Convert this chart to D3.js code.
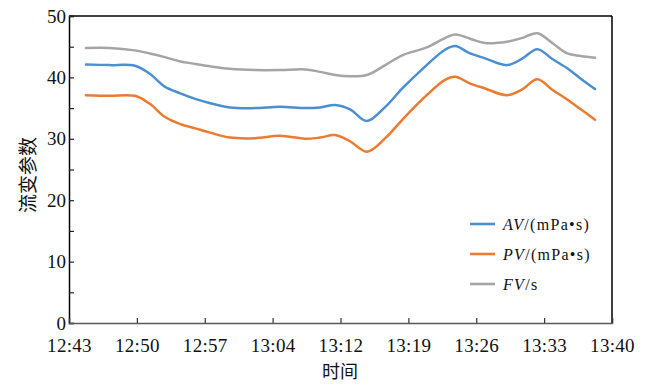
<!DOCTYPE html>
<html><head><meta charset="utf-8">
<script src="https://cdn.jsdelivr.net/npm/d3@7/dist/d3.min.js"></script>
<style>
body{margin:0;background:#fff;}
svg{display:block;}
</style></head>
<body>
<svg id="chart" width="661" height="386"></svg>
<script>
// ---- data ----
const tickLabels = ["12:43","12:50","12:57","13:04","13:12","13:19","13:26","13:33","13:40"];
// sample positions, in units of tick-label intervals (0 = 12:43, 8 = 13:40)
const samplePos = [0.25,0.60,0.97,1.19,1.41,1.64,1.86,2.08,2.37,2.74,3.11,3.48,3.70,3.92,4.14,4.39,4.66,4.91,5.25,5.54,5.69,5.91,6.13,6.45,6.67,6.90,7.12,7.34,7.54,7.75];
const avValues = [42.1,42.0,41.9,40.6,38.5,37.4,36.5,35.8,35.1,35.0,35.2,35.0,35.1,35.5,34.8,32.9,35.2,38.2,41.8,44.5,45.1,43.9,43.1,42.0,43.0,44.6,43.0,41.5,39.8,38.1];
const pvValues = [37.1,37.0,37.0,35.7,33.6,32.4,31.7,31.0,30.2,30.1,30.5,30.0,30.2,30.6,29.6,27.9,30.1,33.1,36.9,39.6,40.1,39.0,38.2,37.1,38.0,39.7,38.0,36.4,34.8,33.1];
const fvValues = [44.8,44.8,44.4,43.9,43.3,42.6,42.2,41.8,41.4,41.2,41.2,41.3,40.9,40.4,40.2,40.4,42.0,43.6,44.8,46.4,47.0,46.3,45.6,45.8,46.4,47.2,45.6,43.9,43.5,43.2];
const yTicks = [0,10,20,30,40,50];
const yMinorTicks = [0,5,10,15,20,25,30,35,40,45,50];
const seriesNames = [
  {it:"AV", rest:"/(mPa•s)"},
  {it:"PV", rest:"/(mPa•s)"},
  {it:"FV", rest:"/s"}
];
const seriesColors = ["#4b8fd0","#ec7a2f","#a5a5a5"];

// ---- layout ----
const svg = d3.select("#chart");
const L = 69, R = 612, T = 16, B = 323;
const x = d3.scaleLinear().domain([0, tickLabels.length - 1]).range([L, R]);
const y = d3.scaleLinear().domain([0, 50]).range([B, T]);
const serifFont = "'Liberation Serif','DejaVu Serif',serif";
const cjkFont = "'Noto Sans CJK SC','Noto Sans CJK JP',sans-serif";

// frame top/right
svg.append("line").attr("x1", L).attr("x2", R).attr("y1", T).attr("y2", T).attr("stroke", "#000").attr("stroke-width", 1.5);
svg.append("line").attr("x1", R).attr("x2", R).attr("y1", T).attr("y2", B).attr("stroke", "#000").attr("stroke-width", 1.5);

// y axis
const yAxis = d3.axisLeft(y).tickValues(yMinorTicks).tickSize(-5).tickPadding(4)
  .tickFormat(d => yTicks.includes(d) ? d : "");
const gy = svg.append("g").attr("transform", `translate(${L},0)`).call(yAxis);
gy.select(".domain").attr("stroke", "#000").attr("stroke-width", 1.5);
gy.selectAll(".tick line").attr("stroke", "#222").attr("stroke-width", 1.2);
gy.selectAll(".tick text").attr("font-family", serifFont).attr("font-size", 19).attr("fill", "#111").attr("x", -3);

// x axis
const xAxis = d3.axisBottom(x).tickValues(d3.range(tickLabels.length)).tickSize(-5).tickPadding(12)
  .tickFormat(i => tickLabels[i]);
const gx = svg.append("g").attr("transform", `translate(0,${B})`).call(xAxis);
gx.select(".domain").attr("stroke", "#595959").attr("stroke-width", 1.5);
gx.selectAll(".tick line").attr("stroke", "#333").attr("stroke-width", 1.2);
gx.selectAll(".tick text").attr("font-family", serifFont).attr("font-size", 19).attr("fill", "#111")
  .attr("letter-spacing", 0.3).attr("y", 28.5).attr("dy", 0);

// axis titles
svg.append("text").attr("x", 340).attr("y", 378).attr("text-anchor", "middle")
  .attr("font-family", cjkFont).attr("font-size", 18).attr("fill", "#111").text("时间");
svg.append("text").attr("transform", "translate(35,175) rotate(-90)").attr("text-anchor", "middle")
  .attr("font-family", cjkFont).attr("font-size", 19).attr("fill", "#111").text("流变参数");

// lines
const allSeries = [avValues, pvValues, fvValues];
const line = d3.line().x((d, i) => x(samplePos[i])).y(d => y(d)).curve(d3.curveCatmullRom.alpha(0.5));
[2, 1, 0].forEach(k => {
  svg.append("path").datum(allSeries[k]).attr("d", line)
    .attr("fill", "none").attr("stroke", seriesColors[k]).attr("stroke-width", 2.5)
    .attr("stroke-linejoin", "round").attr("stroke-linecap", "round");
});

// legend
const lg = svg.append("g").attr("transform", "translate(470,224)");
seriesNames.forEach((s, k) => {
  const g = lg.append("g").attr("transform", `translate(0,${k * 30})`);
  g.append("line").attr("x1", 0).attr("x2", 25).attr("y1", 0).attr("y2", 0)
    .attr("stroke", seriesColors[k]).attr("stroke-width", 2.6);
  const t = g.append("text").attr("x", 33).attr("y", 6).attr("font-family", serifFont)
    .attr("font-size", 16).attr("fill", "#111").attr("letter-spacing", 1.3);
  t.append("tspan").attr("font-style", "italic").text(s.it);
  t.append("tspan").text(s.rest);
});
</script>
</body></html>
